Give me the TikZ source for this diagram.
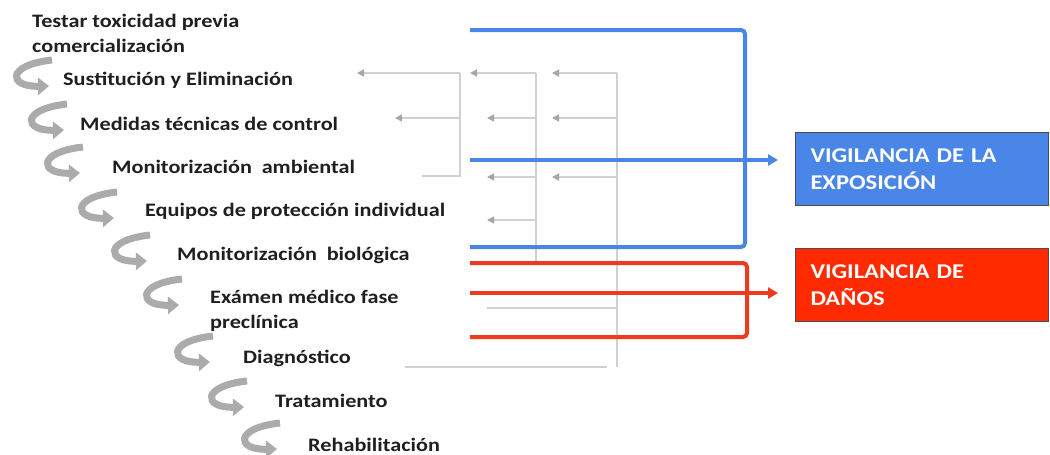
\documentclass[tikz,border=0pt]{standalone}
\usepackage{fontspec}
\setmainfont{Carlito}[FakeStretch=1.17]
\usetikzlibrary{arrows.meta,positioning,calc}
\definecolor{expoblue}{HTML}{4A86E8}
\definecolor{danored}{HTML}{EE3A1E}
\definecolor{danobox}{HTML}{FF2A00}
\definecolor{guidegray}{HTML}{D0D0D0}
\definecolor{tipgray}{HTML}{A6A6A6}
\definecolor{curlgray}{HTML}{ABABAB}
\tikzset{
  vgstep/.style={
    anchor=west, align=left, inner sep=0pt,
    font=\fontsize{19}{25}\selectfont\bfseries, text=black!88
  },
  vgcurl/.style={
    line width=7pt, draw=curlgray,
    -{Triangle[length=11pt,width=17pt]}
  },
  vgguide/.style={line width=1.5pt, draw=guidegray},
  vgguidetip/.style={vgguide,-{Triangle[length=7pt,width=7pt,color=tipgray]}},
  vgexpo/.style={line width=4pt, draw=expoblue},
  vgdano/.style={line width=4pt, draw=danored},
  vgtip/.style={-{Triangle[length=10pt,width=11pt]}, shorten >=17pt},
  vgbox/.style={
    anchor=north west, draw=black!70, line width=1pt,
    minimum width=253pt, minimum height=73pt,
    text width=223pt, align=left, text=white,
    font=\fontsize{21}{27}\selectfont\bfseries
  }
}

\begin{document}
\begin{tikzpicture}[x=1pt,y=-1pt]
  \useasboundingbox (0,0) rectangle (1050,455);

  % steps of the sequence
  \node[vgstep] (s0) at (32,33) {Testar toxicidad previa\\comercialización};
  \node[vgstep] (s1) at (63,80) {Sustitución y Eliminación};
  \node[vgstep] (s2) at (80,124) {Medidas técnicas de control};
  \node[vgstep] (s3) at (112,167) {Monitorización\hspace{0.25em} ambiental};
  \node[vgstep] (s4) at (145,211) {Equipos de protección individual};
  \node[vgstep] (s5) at (177,255) {Monitorización\hspace{0.25em} biológica};
  \node[vgstep] (s6) at (210,311) {Exámen médico fase\\preclínica};
  \node[vgstep] (s7) at (243,358) {Diagnóstico};
  \node[vgstep] (s8) at (275,401) {Tratamiento};
  \node[vgstep] (s9) at (308,445) {Rehabilitación};

  % curved arrows between steps
  \foreach \x/\y in {12/75,27/119,43/162,77/207,110/250,142/294,173/351,207/396,240/438}
    \draw[vgcurl] ({\x+40},{\y-15}) .. controls ({\x-6},{\y-10}) and ({\x-4},{\y+12}) .. ({\x+37},{\y+11});

  % boxes
  \node[vgbox,fill=expoblue] (expo) at (795,132) {VIGILANCIA DE LA\\EXPOSICIÓN};
  \node[vgbox,fill=danobox] (dano) at (795,248) {VIGILANCIA DE\\DAÑOS};

  % grey guide bars
  \coordinate (g1t) at (460,73);
  \coordinate (g1b) at (460,176);
  \coordinate (g2t) at (536,73);
  \coordinate (g2b) at (536,262);
  \coordinate (g3t) at (617,73);
  \coordinate (g3b) at (617,367);
  \draw[vgguide] (g1t) -- (g1b) -- ++(-38,0);
  \draw[vgguide] (g2t) -- (g2b);
  \draw[vgguide] (g3t) -- (g3b);
  \draw[vgguidetip] (g1t) -- ++(-103,0);
  \draw[vgguidetip] (g1t |- 0,118) -- ++(-65,0);
  \draw[vgguidetip] (g2t) -- ++(-66,0);
  \foreach \y in {118,177,220}
    \draw[vgguidetip] (g2t |- 0,\y) -- ++(-49,0);
  \foreach \y in {73,118,177}
    \draw[vgguidetip] (g3t |- 0,\y) -- ++(-65,0);
  \draw[vgguide] (g3t |- 0,308) -- ++(-130,0);
  \draw[vgguide] (405,367) -- (607,367);

  % exposure bracket
  \coordinate (eTop) at (470,30);
  \coordinate (eMid) at (470,160);
  \coordinate (eBot) at (470,247);
  \draw[vgexpo,rounded corners=4pt] (eTop) -- (745,30) -- (745,247) -- (eBot);
  \draw[vgexpo,vgtip] (eMid) -- (eMid -| expo.west);

  % damage bracket
  \coordinate (dTop) at (470,263);
  \coordinate (dMid) at (470,293);
  \coordinate (dBot) at (470,337);
  \draw[vgdano,rounded corners=4pt] (dTop) -- (747,263) -- (747,337) -- (dBot);
  \draw[vgdano,vgtip] (dMid) -- (dMid -| dano.west);
\end{tikzpicture}
\end{document}
